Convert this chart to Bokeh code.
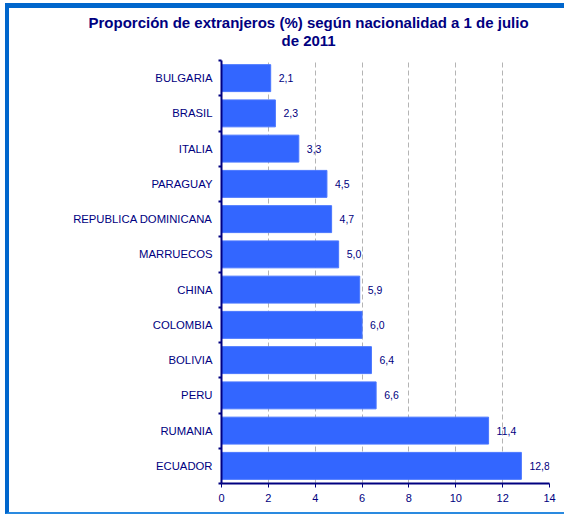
from bokeh.plotting import figure
from bokeh.models import Range1d, FixedTicker, ColumnDataSource, Title, LabelSet
from bokeh.embed import file_html
from bokeh.resources import INLINE
from bokeh.core.properties import value

countries = ["BULGARIA", "BRASIL", "ITALIA", "PARAGUAY", "REPUBLICA DOMINICANA",
             "MARRUECOS", "CHINA", "COLOMBIA", "BOLIVIA", "PERU", "RUMANIA", "ECUADOR"]
values = [2.1, 2.3, 3.3, 4.5, 4.7, 5.0, 5.9, 6.0, 6.4, 6.6, 11.4, 12.8]
x_ticks = [0, 2, 4, 6, 8, 10, 12, 14]
title_lines = ["Proporción de extranjeros (%) según nacionalidad a 1 de julio", "de 2011"]

n = len(countries)
ypos = [n - i - 0.5 for i in range(n)]
labels = [f"{v:.1f}".replace(".", ",") for v in values]

NAVY = "#000080"
FONT = "Liberation Sans"

src = ColumnDataSource(dict(y=ypos, v=values, lab=labels, c=countries))

p = figure(width=559, height=511, output_backend="svg", toolbar_location=None,
           x_range=Range1d(0, 14), y_range=Range1d(0, n), title=None)
p.min_border_left = 212
p.min_border_right = 19
p.min_border_top = 52
p.min_border_bottom = 36
p.outline_line_color = None
p.background_fill_color = "white"
p.border_fill_color = "white"

# title lines (second line closest to the plot)
offsets = [-133, 60]
standoffs = [-27, 24]
for t, off, so in reversed(list(zip(title_lines, offsets, standoffs))):
    p.add_layout(Title(text=t, align="left", offset=off, standoff=so,
                       text_font=FONT, text_font_size="15px", text_font_style="bold",
                       text_color=NAVY), "above")

p.hbar(y="y", right="v", left=0, height=0.765, source=src,
       fill_color="#3366FF", line_color="#4A77FF", line_width=1)
p.add_layout(LabelSet(x="v", y="y", text="lab", source=src, x_offset=8,
                      text_font=value(FONT), text_font_size=value("10.5px"),
                      text_color=NAVY, text_baseline="middle", text_align="left"))

# x axis
xa = p.xaxis[0]
xa.ticker = FixedTicker(ticks=x_ticks)
xa.axis_line_color = NAVY
xa.axis_line_width = 2
xa.major_tick_line_color = NAVY
xa.major_tick_line_width = 1
xa.major_tick_out = 4
xa.major_tick_in = 0
xa.minor_tick_line_color = None
xa.major_label_text_font = FONT
xa.major_label_text_font_size = "11px"
xa.major_label_text_color = NAVY
xa.major_label_standoff = 6

# y axis
ya = p.yaxis[0]
ya.ticker = FixedTicker(ticks=ypos, minor_ticks=list(range(n + 1)))
ya.major_label_overrides = {y: c for y, c in zip(ypos, countries)}
ya.axis_line_color = NAVY
ya.axis_line_width = 2
ya.major_tick_line_color = None
ya.major_tick_out = 0
ya.major_tick_in = 0
ya.minor_tick_line_color = NAVY
ya.minor_tick_line_width = 2
ya.minor_tick_out = 3
ya.minor_tick_in = 0
ya.major_label_text_font = FONT
ya.major_label_text_font_size = "11.3px"
ya.major_label_text_color = NAVY
ya.major_label_standoff = 6

p.xgrid.ticker = FixedTicker(ticks=x_ticks)
p.xgrid.grid_line_color = "#B4B4B4"
p.xgrid.grid_line_dash = "5 3"
p.xgrid.grid_line_width = 1
p.ygrid.grid_line_color = None

p.styles = {"margin-left": "5px", "margin-top": "3px",
            "border-top": "5px solid #0066CC", "border-left": "4px solid #0066CC",
            "border-bottom": "2px solid #2A8AE0"}

open("out.html", "w").write(file_html(p, INLINE))
